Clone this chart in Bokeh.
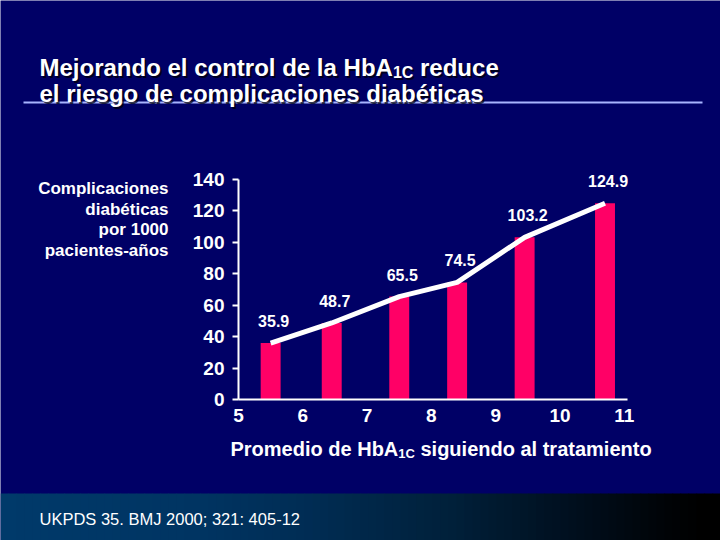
from bokeh.plotting import figure
from bokeh.models import ColumnDataSource, Range1d, LabelSet, Label, BoxAnnotation, FixedTicker
from bokeh.core.properties import value
from bokeh.embed import file_html
from bokeh.resources import INLINE

# ---------------- data ----------------
hba1c = [5.5, 6.45, 7.5, 8.4, 9.45, 10.7]
rates = [35.9, 48.7, 65.5, 74.5, 103.2, 124.9]
rate_labels = ["35.9", "48.7", "65.5", "74.5", "103.2", "124.9"]
x_ticks = [5, 6, 7, 8, 9, 10, 11]
y_ticks = [0, 20, 40, 60, 80, 100, 120, 140]

title_line1 = ("Mejorando el control de la HbA", "1C", "reduce")
title_line2 = "el riesgo de complicaciones diabéticas"
y_title_lines = ["Complicaciones", "diabéticas", "por 1000", "pacientes-años"]
x_title = ("Promedio de HbA", "1C", "siguiendo al tratamiento")
source_note = "UKPDS 35.  BMJ 2000;  321:  405-12"

# ---------------- layout / style ----------------
W, H = 720, 540
X0_PX = 238             # canvas x of x = 5
PX_PER_X = 64.3
Y0_PX = 399             # canvas y of y = 0
PX_PER_Y = 220 / 140

BG = "#000066"
BAR = "#ff0066"
FONT = "Liberation Sans"

x_lo = 5 - X0_PX / PX_PER_X
x_hi = 5 + (W - X0_PX) / PX_PER_X
y_lo = -(H - Y0_PX) / PX_PER_Y
y_hi = Y0_PX / PX_PER_Y


def dx(sx):
    return 5 + (sx - X0_PX) / PX_PER_X


def dy(sy):
    return (Y0_PX - sy) / PX_PER_Y


p = figure(width=W, height=H, x_range=Range1d(x_lo, x_hi), y_range=Range1d(y_lo, y_hi),
           output_backend="svg", toolbar_location=None, title=None,
           min_border=0, min_border_left=0, min_border_right=0,
           min_border_top=0, min_border_bottom=0)
p.background_fill_color = BG
p.border_fill_color = BG
p.outline_line_color = None
p.grid.visible = False

# axes (drawn inside the frame at fixed data locations)
xa = p.xaxis[0]
xa.fixed_location = 0
xa.ticker = FixedTicker(ticks=x_ticks)
xa.bounds = (5, 11.05)
xa.major_tick_out = 0
xa.major_tick_in = 0
xa.minor_tick_out = 0
xa.minor_tick_in = 0
xa.axis_line_color = "white"
xa.axis_line_width = 2
xa.major_label_text_color = "white"
xa.major_label_text_font = FONT
xa.major_label_text_font_size = "19px"
xa.major_label_text_font_style = "bold"
xa.major_label_standoff = 9

ya = p.yaxis[0]
ya.fixed_location = 5
ya.ticker = FixedTicker(ticks=y_ticks)
ya.bounds = (0, 140)
ya.major_tick_out = 6
ya.major_tick_in = 0
ya.minor_tick_out = 0
ya.minor_tick_in = 0
ya.axis_line_color = "white"
ya.axis_line_width = 2
ya.major_tick_line_color = "white"
ya.major_tick_line_width = 2
ya.major_label_text_color = "white"
ya.major_label_text_font = FONT
ya.major_label_text_font_size = "19px"
ya.major_label_text_font_style = "bold"
ya.major_label_standoff = 8

# bottom gradient band
band_stops_x = [0, 200, 300, 450, 550, 650, 700]
band_stops_rgb = [(0, 58, 106), (0, 52, 98), (0, 45, 85), (0, 32, 58), (0, 18, 35), (0, 5, 10), (0, 0, 0)]
STRIP = 8
sx = 0
while sx < W:
    mid = min(sx + STRIP / 2, band_stops_x[-1])
    for i in range(len(band_stops_x) - 1):
        if band_stops_x[i] <= mid <= band_stops_x[i + 1]:
            t = (mid - band_stops_x[i]) / (band_stops_x[i + 1] - band_stops_x[i])
            c = tuple(int(round(a + (b - a) * t)) for a, b in zip(band_stops_rgb[i], band_stops_rgb[i + 1]))
            break
    p.add_layout(BoxAnnotation(left=dx(sx), right=dx(sx + STRIP + 0.6), top=dy(493), bottom=dy(560),
                               fill_color="#%02x%02x%02x" % c, fill_alpha=1, line_color=None,
                               level="underlay"))
    sx += STRIP

# title underline
p.add_layout(BoxAnnotation(left=dx(23), right=dx(702), top=dy(101), bottom=dy(103),
                           fill_color="#a8b4ff", fill_alpha=1, line_color=None, level="underlay"))

# data
src = ColumnDataSource(dict(x=hba1c, rate=rates, label=rate_labels))
p.vbar(x="x", top="rate", bottom=0, width=0.31, source=src, fill_color=BAR, line_color=None)
p.line(x="x", y="rate", source=src, line_color="white", line_width=5)
p.add_layout(LabelSet(x="x", y="rate", text="label", source=src, x_offset=3, y_offset=16,
                      text_align="center", text_baseline="alphabetic", text_color="white",
                      text_font=value(FONT), text_font_size="16px", text_font_style="bold"))


def lab(x, y, text, size, color="white", align="left", style="bold", alpha=1.0):
    p.add_layout(Label(x=x, y=y, text=text, text_font=FONT, text_font_size=size,
                       text_font_style=style, text_color=color, text_alpha=alpha,
                       text_align=align, text_baseline="alphabetic"))


# title (with drop shadow)
T_SIZE = 24
SUB_SIZE = 16
HBA_W = 14.725 * T_SIZE
SUB_W = 1.278 * SUB_SIZE + 0.278 * T_SIZE
for (ox, oy, col, al) in [(2, 2, "#000000", 0.7), (0, 0, "white", 1.0)]:
    lab(dx(39 + ox), dy(67 + oy), title_line1[0], f"{T_SIZE}px", col, alpha=al)
    lab(dx(39 + HBA_W + ox), dy(72 + oy), title_line1[1], f"{SUB_SIZE}px", col, alpha=al)
    lab(dx(39 + HBA_W + SUB_W + ox), dy(67 + oy), title_line1[2], f"{T_SIZE}px", col, alpha=al)
    lab(dx(39 + ox), dy(93 + oy), title_line2, f"{T_SIZE}px", col, alpha=al)

# y-axis title (horizontal, right aligned)
for i, line in enumerate(y_title_lines):
    lab(dx(168), dy(188 + 20.5 * i), line, "17px", align="right")

# x-axis title with subscript
XT = 20
XSUB = 13
x_hba_w = 8.39 * XT
x_sub_w = 1.278 * XSUB + 0.278 * XT
lab(dx(230), dy(448), x_title[0], f"{XT}px")
lab(dx(230 + x_hba_w), dy(453), x_title[1], f"{XSUB}px")
lab(dx(230 + x_hba_w + x_sub_w), dy(448), x_title[2], f"{XT}px")

# source note
lab(dx(39), dy(518), source_note, "16.5px", style="normal")

open("out.html", "w").write(file_html(p, INLINE))
